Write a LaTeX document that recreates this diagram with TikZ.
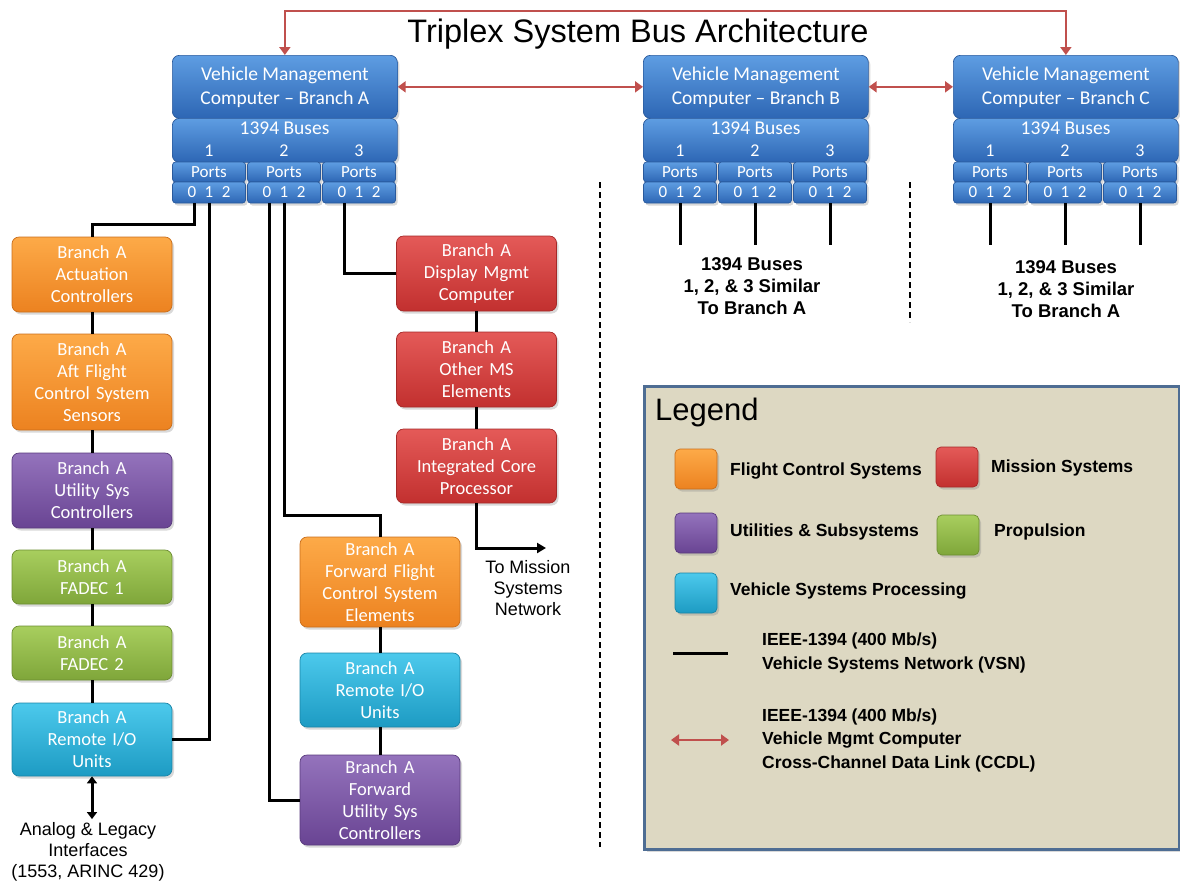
\documentclass[tikz,border=0pt]{standalone}
\usepackage{fontspec}
\setmainfont{Liberation Sans}
\newfontfamily\calibri{Carlito}
\usetikzlibrary{
  arrows.meta,
  shadows
}
\definecolor{vmctop}{HTML}{5E9DE2}
\definecolor{vmcbot}{HTML}{2D66B4}
\definecolor{vmcline}{HTML}{2A5A9C}
\definecolor{fcstop}{HTML}{FDAA48}
\definecolor{fcsbot}{HTML}{EC8220}
\definecolor{mstop}{HTML}{E45A58}
\definecolor{msbot}{HTML}{C2302F}
\definecolor{ustop}{HTML}{9473BC}
\definecolor{usbot}{HTML}{694493}
\definecolor{proptop}{HTML}{A8CE5E}
\definecolor{propbot}{HTML}{7FA63A}
\definecolor{vsptop}{HTML}{4CC9EC}
\definecolor{vspbot}{HTML}{1D9BC3}
\definecolor{ccdlred}{HTML}{C0504D}
\definecolor{legendfill}{HTML}{DDD8C2}
\definecolor{legendline}{HTML}{4E6D93}
\tikzset{
  vsn/.style={line width=3pt, black},
  ccdl/.style={
    line width=2.6pt,
    ccdlred,
    {Triangle[width=11pt,length=8pt]}-{Triangle[width=11pt,length=8pt]}
  },
  glossy/.style={
    rounded corners=7pt,
    line width=0.7pt,
    text=white,
    align=center,
    inner sep=1pt,
    font=\calibri\fontsize{18.5}{22}\selectfont,
    drop shadow={opacity=0.3, shadow xshift=2pt, shadow yshift=-2.5pt}
  },
  vmc/.style={glossy, draw=vmcline, top color=vmctop, bottom color=vmcbot},
  fcs/.style={glossy, draw=fcsbot!85!black, top color=fcstop, bottom color=fcsbot},
  ms/.style={glossy, draw=msbot!85!black, top color=mstop, bottom color=msbot},
  usys/.style={glossy, draw=usbot!85!black, top color=ustop, bottom color=usbot},
  prop/.style={glossy, draw=propbot!85!black, top color=proptop, bottom color=propbot},
  vsp/.style={glossy, draw=vspbot!85!black, top color=vsptop, bottom color=vspbot},
  unit/.style={minimum width=160, text width=156},
  portbox/.style={vmc, rounded corners=3pt, minimum width=73, inner sep=0pt,
    font=\calibri\fontsize{17}{20}\selectfont},
  swatch/.style={minimum width=42, minimum height=40, rounded corners=5pt},
  note/.style={align=center, font=\fontsize{18}{21}\selectfont},
  bnote/.style={align=center, font=\bfseries\fontsize{18.5}{22}\selectfont},
  keytext/.style={anchor=west, align=left, inner sep=0pt, font=\bfseries\fontsize{17.5}{23.5}\selectfont}
}

\begin{document}
\begin{tikzpicture}[x=1pt, y=-1pt]
  \useasboundingbox (0,0) rectangle (1180,884);

  \node[font=\fontsize{32.5}{36}\selectfont] (title) at (638,34) {Triplex System Bus Architecture};

  % vehicle management computers with their bus and port blocks
  \foreach \b/\x in {A/172,B/643,C/953}{
    \node[vmc, minimum width=225, minimum height=63, anchor=north west,
      font=\calibri\fontsize{19.5}{24}\selectfont] (vmc\b) at (\x,55)
      {Vehicle Management\\Computer – Branch \b};
    \node[vmc, minimum width=225, minimum height=44, anchor=north west] (bus\b) at (\x,118) {};
    \node[text=white, font=\calibri\fontsize{19.5}{20}\selectfont, inner sep=0pt] (buslbl\b) at (\x+112.5,128) {1394 Buses};
    \foreach \g in {1,2,3}{
      \node[text=white, font=\calibri\fontsize{18}{20}\selectfont, inner sep=0pt] (busno\b\g) at (\x+37+75*\g-75,151) {\g};
      \node[portbox, minimum height=20] (ports\b\g) at (\x+37+75*\g-75,172) {Ports};
      \node[portbox, minimum height=21] (pins\b\g) at (\x+37+75*\g-75,192.5) {0\enspace1\enspace2};
      \coordinate (pin\b\g0) at (\x+22+75*\g-75,203);
      \coordinate (pin\b\g1) at (\x+37+75*\g-75,203);
    }
  }

  % cross-channel data links
  \draw[ccdl] (vmcA.east) -- (vmcB.west);
  \draw[ccdl] (vmcB.east) -- (vmcC.west);
  \draw[ccdl] (vmcA.north) -- ++(0,-44) -| (vmcC.north);

  % branch A units
  \node[fcs, unit, minimum height=75] (actA) at (92,274.5) {Branch A\\Actuation\\Controllers};
  \node[fcs, unit, minimum height=96] (aftA) at (92,382) {Branch A\\Aft Flight\\Control System\\Sensors};
  \node[usys, unit, minimum height=75] (utilA) at (92,490.5) {Branch A\\Utility Sys\\Controllers};
  \node[prop, unit, minimum height=54] (fadec1) at (92,577) {Branch A\\FADEC 1};
  \node[prop, unit, minimum height=54] (fadec2) at (92,653) {Branch A\\FADEC 2};
  \node[vsp, unit, minimum height=73] (rioA) at (92,739.5) {Branch A\\Remote I/O\\Units};

  \node[ms, unit, minimum height=75] (dmcA) at (476.5,273.5) {Branch A\\Display Mgmt\\Computer};
  \node[ms, unit, minimum height=75] (omsA) at (476.5,369.5) {Branch A\\Other MS\\Elements};
  \node[ms, unit, minimum height=74] (icpA) at (476.5,466) {Branch A\\Integrated Core\\Processor};

  \node[fcs, unit, minimum height=90] (ffcA) at (380,582) {Branch A\\Forward Flight\\Control System\\Elements};
  \node[vsp, unit, minimum height=74] (frioA) at (380,690) {Branch A\\Remote I/O\\Units};
  \node[usys, unit, minimum height=90] (fusA) at (380,800) {Branch A\\Forward\\Utility Sys\\Controllers};

  \node[note] (legacy) at (88,852) {Analog \& Legacy\\Interfaces\\(1553, ARINC 429)};
  \node[note] (msnet) at (528,588) {To Mission\\Systems\\Network};
  \coordinate (msn) at (546,548);

  % vehicle systems network
  \foreach \u/\v in {actA/aftA, aftA/utilA, utilA/fadec1, fadec1/fadec2, fadec2/rioA,
                     dmcA/omsA, omsA/icpA, ffcA/frioA, frioA/fusA}
    \draw[vsn] (\u) -- (\v);
  \draw[vsn] (pinA10) -- ++(0,21) -| (actA.north);
  \draw[vsn] (pinA11) |- (rioA.east);
  \draw[vsn] (pinA20) |- (fusA.west);
  \draw[vsn] (pinA21) -- ++(0,312) -| (ffcA.north);
  \draw[vsn] (pinA30) |- (dmcA.west);
  \draw[vsn, -{Triangle[width=10pt,length=9pt]}] (icpA.south) |- (msn);
  \draw[vsn, {Triangle[width=10pt,length=7pt]}-{Triangle[width=10pt,length=7pt]}]
    (rioA.south) -- (rioA.south |- legacy.north);
  \foreach \b in {B,C}
    \foreach \g in {1,2,3}
      \draw[vsn] (pin\b\g1) -- ++(0,42);

  \node[bnote] (simB) at (752,286) {1394 Buses\\1, 2, \& 3 Similar\\To Branch A};
  \node[bnote] (simC) at (1066,289) {1394 Buses\\1, 2, \& 3 Similar\\To Branch A};

  \draw[line width=1.3pt, dash pattern=on 6pt off 4pt] (600,182) -- (600,847);
  \draw[line width=1.3pt, dash pattern=on 6pt off 4pt] (910,182) -- (910,322);

  % legend
  \node[draw=legendline, line width=2.5pt, fill=legendfill, minimum width=535, minimum height=463,
    anchor=north west, drop shadow={opacity=0.3}] (legend) at (643,385) {};
  \node[anchor=west, inner sep=0pt, font=\fontsize{31}{36}\selectfont] (legendtitle) at (655,412) {Legend};
  \node[fcs, swatch] (keyfcs) at (696,469) {};
  \node[ms, swatch] (keyms) at (957,467) {};
  \node[usys, swatch] (keyus) at (696,533) {};
  \node[prop, swatch] (keyprop) at (958,535) {};
  \node[vsp, swatch] (keyvsp) at (696,593) {};
  \node[keytext] (txtfcs) at (730,471) {Flight Control Systems};
  \node[keytext] (txtms) at (991,468) {Mission Systems};
  \node[keytext] (txtus) at (730,532) {Utilities \& Subsystems};
  \node[keytext] (txtprop) at (994,532) {Propulsion};
  \node[keytext] (txtvsp) at (730,591) {Vehicle Systems Processing};
  \coordinate (vsnL) at (673,653);
  \coordinate (vsnR) at (728,653);
  \draw[vsn] (vsnL) -- (vsnR);
  \node[keytext] (txtvsn) at (762,653) {IEEE-1394 (400 Mb/s)\\Vehicle Systems Network (VSN)};
  \coordinate (ccdlL) at (671,740);
  \coordinate (ccdlR) at (729,740);
  \draw[ccdl] (ccdlL) -- (ccdlR);
  \node[keytext] (txtccdl) at (762,740) {IEEE-1394 (400 Mb/s)\\Vehicle Mgmt Computer\\Cross-Channel Data Link (CCDL)};
\end{tikzpicture}
\end{document}
